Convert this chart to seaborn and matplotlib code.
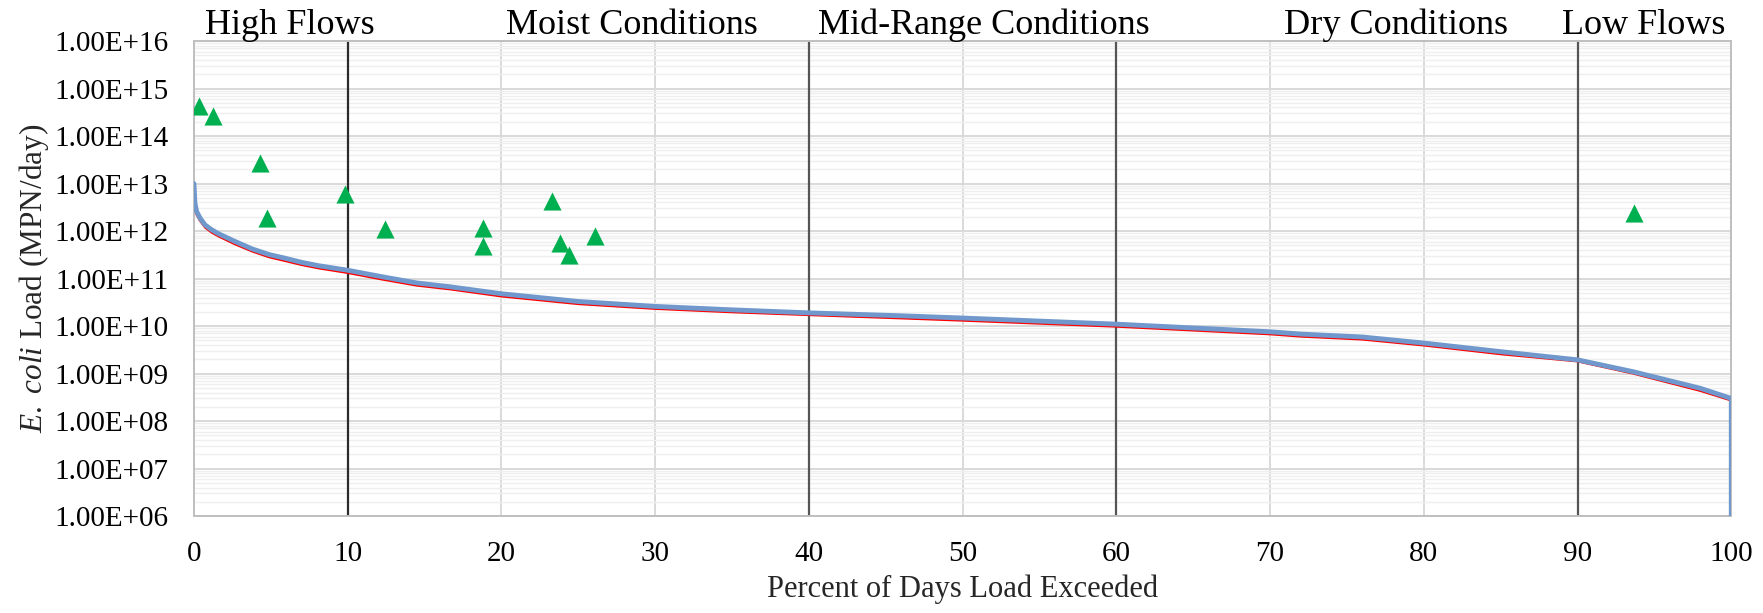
import numpy as np
import pandas as pd
import matplotlib
matplotlib.use("Agg")
import matplotlib.pyplot as plt
import matplotlib.ticker as mticker
import seaborn as sns

# ---- data ----
curve_pct = [0, 0.065, 0.17, 0.39, 0.72, 1.15, 1.6, 2.7, 3.8, 4.9,
             5.9, 7.0, 8.1, 10, 12.2, 14.5, 16.7, 20, 25, 30,
             35, 40, 46, 50, 60, 70, 72, 76, 80, 85,
             90, 93.6, 98, 100]
blue_load = [1e13, 3.9e12, 2.6e12, 1.9e12, 1.35e12, 1.07e12, 8.8e11, 6.0e11, 4.2e11, 3.2e11,
             2.7e11, 2.2e11, 1.87e11, 1.5e11, 1.1e11, 8.1e10, 6.7e10, 4.8e10, 3.3e10, 2.6e10,
             2.2e10, 1.9e10, 1.65e10, 1.48e10, 1.1e10, 7.6e9, 6.8e9, 5.9e9, 4.4e9, 2.9e9,
             1.95e9, 1.1e9, 4.9e8, 3.0e8]
blue_end_pct = [100]
blue_end_load = [1e5]
red_load = [3.0e12, 2.9e12, 2.2e12, 1.65e12, 1.18e12, 9.3e11, 7.7e11, 5.2e11, 3.7e11, 2.8e11,
            2.35e11, 1.93e11, 1.64e11, 1.31e11, 9.6e10, 7.1e10, 5.9e10, 4.2e10, 2.9e10, 2.3e10,
            1.95e10, 1.7e10, 1.45e10, 1.3e10, 9.7e9, 6.7e9, 6.0e9, 5.2e9, 3.9e9, 2.55e9,
            1.8e9, 1.0e9, 4.3e8, 2.7e8]
obs_pct = [0.32, 1.25, 4.31, 4.74, 9.8, 12.42, 18.78, 18.78, 23.29, 23.79, 24.39, 26.1, 93.7]
obs_load = [4.2e14, 2.7e14, 2.7e13, 1.9e12, 6.0e12, 1.1e12, 1.15e12, 4.8e11, 4.2e12,
            5.5e11, 3.1e11, 7.9e11, 2.4e12]
boundaries = [10, 40, 60, 90]
zone_labels = ["High Flows", "Moist Conditions", "Mid-Range Conditions",
               "Dry Conditions", "Low Flows"]
zone_label_x = [0.75, 20.3, 40.6, 70.9, 89.0]
x_ticks = [0, 10, 20, 30, 40, 50, 60, 70, 80, 90, 100]

sns.set_theme(style="white")
plt.rcParams["font.family"] = ["Liberation Serif", "DejaVu Serif"]
plt.rcParams["mathtext.fontset"] = "custom"
plt.rcParams["mathtext.rm"] = "Liberation Serif"
plt.rcParams["mathtext.it"] = "Liberation Serif:italic"

fig = plt.figure(figsize=(17.63, 6.13), dpi=100)
ax = fig.add_axes([0.110, 0.158, 0.872, 0.775])

df_blue = pd.DataFrame({"pct": curve_pct + blue_end_pct, "load": blue_load + blue_end_load})
df_red = pd.DataFrame({"pct": curve_pct, "load": red_load})
df_obs = pd.DataFrame({"pct": obs_pct, "load": obs_load})

ax.set_yscale("log")
ax.set_xlim(0, 100)
ax.set_ylim(1e6, 1e16)

# grid
ax.yaxis.set_major_locator(mticker.LogLocator(base=10, numticks=20))
ax.yaxis.set_minor_locator(mticker.LogLocator(base=10, subs=np.arange(2, 10), numticks=100))
ax.yaxis.set_minor_formatter(mticker.NullFormatter())
ax.yaxis.set_major_formatter(mticker.FuncFormatter(lambda v, p: f"{v:.2E}"))
ax.set_xticks(x_ticks)
ax.grid(which="major", axis="both", color="#d9d9d9", lw=1.4, zorder=0)
ax.grid(which="minor", axis="y", color="#efefef", lw=1.0, zorder=0)
ax.set_axisbelow(True)

for b in boundaries:
    ax.axvline(b, color="#2b2b2b" if b == 10 else "#555555", lw=1.6, zorder=1)

sns.lineplot(data=df_red, x="pct", y="load", ax=ax, color="#FF0000", lw=1.4,
             sort=False, estimator=None, zorder=3)
sns.lineplot(data=df_blue, x="pct", y="load", ax=ax, color="#7098CC", lw=3.5,
             sort=False, estimator=None, zorder=4)
sns.scatterplot(data=df_obs, x="pct", y="load", ax=ax, color="#00B050", marker="^",
                s=170, linewidth=0, zorder=5)

trans = matplotlib.transforms.blended_transform_factory(ax.transData, ax.transAxes)
for lbl, lx in zip(zone_labels, zone_label_x):
    ax.text(lx, 1.014, lbl, transform=trans, ha="left", va="baseline",
            fontsize=26, color="black")

for side in ["left", "bottom", "top", "right"]:
    ax.spines[side].set_color("#bfbfbf")
    ax.spines[side].set_linewidth(1.4)

ax.tick_params(axis="both", which="both", length=0, labelsize=21, colors="black")
ax.tick_params(axis="y", which="minor", labelleft=False)
ax.tick_params(axis="x", pad=18)
ax.tick_params(axis="y", pad=18)
ax.xaxis.get_offset_text().set_visible(False)
ax.yaxis.get_offset_text().set_visible(False)
ax.set_xlabel("Percent of Days Load Exceeded", fontsize=22, labelpad=5)
ax.set_ylabel(r"$\mathit{E.}$ $\mathit{coli}$ Load (MPN/day)", fontsize=22.5, labelpad=3)

fig.savefig("out.png", dpi=100, facecolor="white")
